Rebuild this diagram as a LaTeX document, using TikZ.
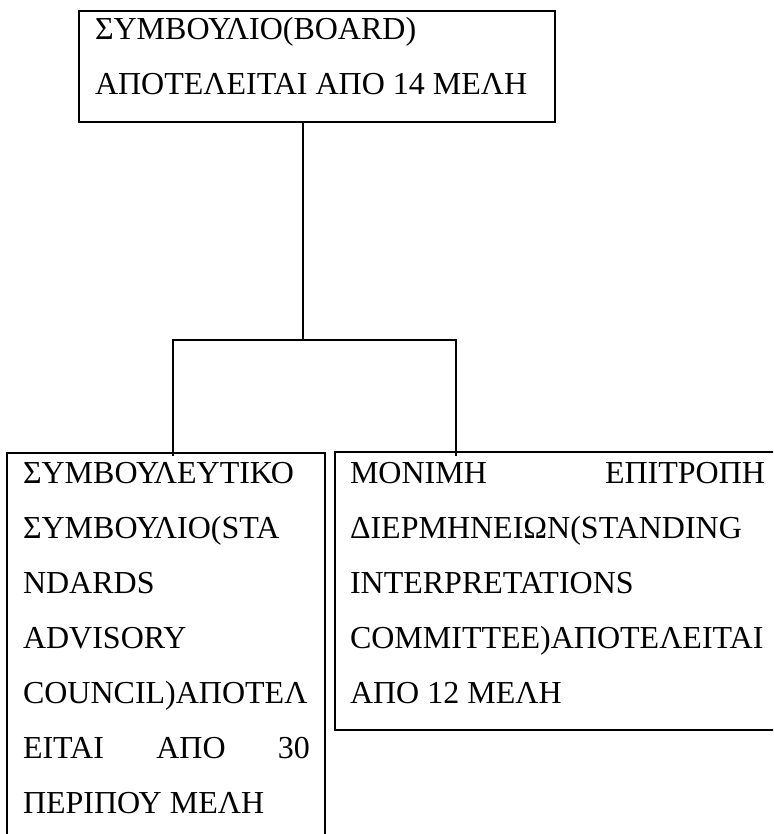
\documentclass[tikz,border=0pt]{standalone}
\usepackage{fontspec}
\setmainfont{Liberation Serif}
\begin{document}
\begin{tikzpicture}[x=1pt,y=-1pt,
  box/.style={draw=black,line width=2pt,inner sep=0pt,fill=none},
  conn/.style={draw=black,line width=1.6pt},
  txt/.style={anchor=base west,inner sep=0pt,outer sep=0pt,font=\fontsize{32}{38}\selectfont}]
\useasboundingbox (0,0) rectangle (773,834);
\clip (0,0) rectangle (773,834);
% boxes
\node[box,minimum width=476pt,minimum height=111pt] (board) at (317,66.5) {};
\node[box,minimum width=318pt,minimum height=420pt] (sac) at (166,663) {};
\node[box,minimum width=470pt,minimum height=278pt] (sic) at (570,591) {};
% connectors
\coordinate (j) at (303,340);
\coordinate (lj) at (173,340);
\coordinate (rj) at (456,340);
\draw[conn] (j |- board.south) -- (j);
\draw[conn] ([yshift=-4pt]lj |- sac.north) -- (lj) -- (rj) -- ([yshift=-5pt]rj |- sic.north);
% texts top
\node[txt] (t1) at (95,40) {ΣΥΜΒΟΥΛΙΟ(BOARD)};
\node[txt] (t2) at (95,95) {ΑΠΟΤΕΛΕΙΤΑΙ ΑΠΟ 14 ΜΕΛΗ};
% left box text
\node[txt] (l1) at (23,483) {ΣΥΜΒΟΥΛΕΥΤΙΚΟ};
\node[txt] (l2) at (23,538) {ΣΥΜΒΟΥΛΙΟ(STA};
\node[txt] (l3) at (23,593) {NDARDS};
\node[txt] (l4) at (23,648) {ADVISORY};
\node[txt] (l5) at (23,703) {COUNCIL)ΑΠΟΤΕΛ};
\node[txt] (l6) at (23,758) {\makebox[287pt][s]{ΕΙΤΑΙ\hfill ΑΠΟ\hfill 30}};
\node[txt] (l7) at (23,813) {ΠΕΡΙΠΟΥ ΜΕΛΗ};
% right box text
\node[txt] (r1) at (350,483) {\makebox[415pt][s]{ΜΟΝΙΜΗ\hfill ΕΠΙΤΡΟΠΗ}};
\node[txt] (r2) at (350,538) {ΔΙΕΡΜΗΝΕΙΩΝ(STANDING};
\node[txt] (r3) at (350,593) {INTERPRETATIONS};
\node[txt] (r4) at (350,648) {COMMITTEE)ΑΠΟΤΕΛΕΙΤΑΙ};
\node[txt] (r5) at (350,703) {ΑΠΟ 12 ΜΕΛΗ};
\end{tikzpicture}
\end{document}
